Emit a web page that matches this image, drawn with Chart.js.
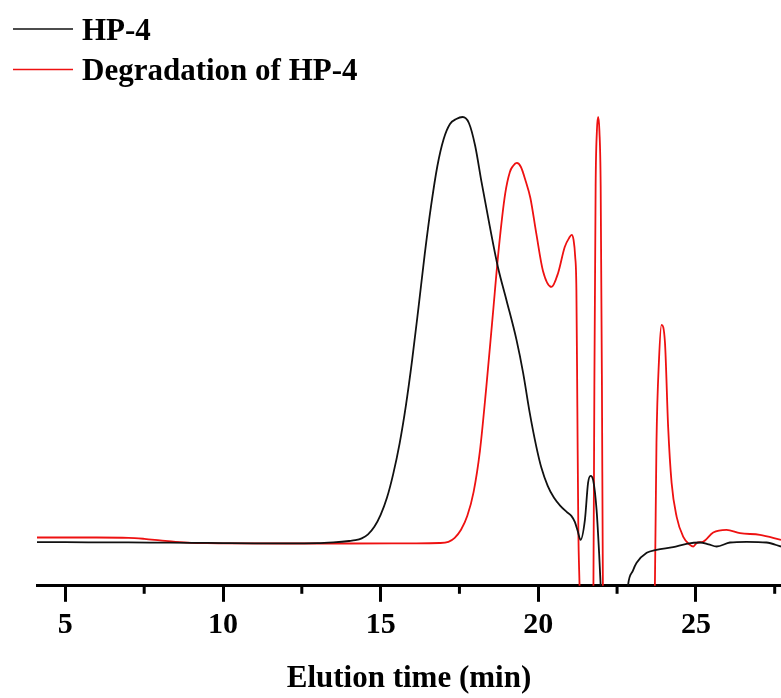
<!DOCTYPE html>
<html>
<head>
<meta charset="utf-8">
<script src="https://cdn.jsdelivr.net/npm/chart.js@4"></script>
<style>
  html, body { margin: 0; padding: 0; background: #fff; }
  #wrap { width: 781px; height: 698px; }
</style>
</head>
<body>
<div id="wrap"><canvas id="gpc" width="781" height="698"></canvas></div>
<script>
// elution time (min) and detector signal (arbitrary units, 0 = axis line)
const hp4Time = [4.1, 5, 6, 7, 8, 9, 10, 11, 12, 13, 13.5, 14.0, 14.2, 14.4, 14.6, 14.8, 15.0, 15.2, 15.4, 15.6,
  15.8, 16.0, 16.2, 16.4, 16.6, 16.8, 17.0, 17.2, 17.4, 17.6, 17.8, 18.0, 18.2, 18.46, 18.72, 18.99, 19.31, 19.52,
  19.73, 19.94, 20.1, 20.3, 20.5, 20.7, 20.9, 21.05, 21.16, 21.25, 21.34, 21.48, 21.58, 21.66, 21.74, 21.85, 21.93,
  21.98, 22.05, 22.75, 22.85, 23.0, 23.12, 23.44, 23.75, 24.28, 24.7, 25.13, 25.4, 25.66, 26.08, 26.61, 27.24, 27.7];
const hp4Signal = [43.7, 43.6, 43.5, 43.4, 43.2, 43, 42.7, 42.5, 42.5, 42.7, 43.5, 44.8, 45.6, 47.5, 51.5, 59, 71, 88, 112, 142,
  180, 226, 278, 332, 380, 420, 447, 462, 467, 469, 463, 440, 404, 360, 319, 286, 246, 213,
  173, 139, 118, 100, 88, 80, 74, 70, 64, 55, 46, 66, 103, 110, 106, 76, 33,
  0, -40, -40, 1, 15, 23, 33, 36, 38.7, 42, 43.3, 41.5, 39.3, 43.3, 44, 43.3, 39.3];

const degTime = [4.1, 5, 6, 7, 7.5, 8, 8.5, 9, 9.5, 10, 12, 14, 16, 16.87, 17.15, 17.35, 17.55, 17.75, 17.95, 18.15,
  18.35, 18.55, 18.75, 18.95, 19.1, 19.2, 19.32, 19.45, 19.6, 19.75, 19.94, 20.15, 20.42, 20.63, 20.84, 20.98, 21.06,
  21.12, 21.17, 21.21, 21.24, 21.27, 21.31, 21.35, 21.7, 21.75, 21.78, 21.82, 21.86, 21.9, 21.94, 21.98, 22.02, 22.05,
  22.1, 23.65, 23.7, 23.75, 23.83, 23.91, 24.02, 24.12, 24.23, 24.39, 24.6, 24.81, 24.92, 25.02, 25.24, 25.55, 25.97,
  26.4, 27.03, 27.7];
const degSignal = [48.3, 48.3, 48.3, 48, 47, 45.5, 44, 43, 42.6, 42.5, 42.3, 42.3, 42.5, 42.8, 44, 48, 56, 70, 94, 135,
  198, 268, 338, 392, 414, 420, 423, 419, 405, 388, 352, 315, 299, 313, 339, 348, 351,
  346, 330, 296, 179, 60, 0, -60, -60, 0, 200, 400, 455, 469, 455, 400, 200, 0,
  -60, -60, 0, 143, 226, 261, 243, 159, 103, 69, 49, 41, 39.3, 42.7, 44.3, 53.3, 56,
  52.7, 51, 46];

const legendLabels = ["HP-4", "Degradation of HP-4"];
const majorTicks = [5, 10, 15, 20, 25];
const minorTicks = [7.5, 12.5, 17.5, 22.5, 27.5];

const serif = '"Liberation Serif", "Times New Roman", serif';

function toPoints(xs, ys) {
  return xs.map(function (x, i) { return { x: x, y: ys[i] }; });
}

// short unlabeled ticks between the labeled ones
const minorTickPlugin = {
  id: "minorTicks",
  afterDraw(chart) {
    const ctx = chart.ctx;
    const xScale = chart.scales.x;
    const bottom = chart.chartArea.bottom;
    ctx.save();
    ctx.strokeStyle = "#000";
    ctx.lineWidth = 3;
    minorTicks.forEach(function (v) {
      const px = xScale.getPixelForValue(v);
      ctx.beginPath();
      ctx.moveTo(px, bottom);
      ctx.lineTo(px, bottom + 8);
      ctx.stroke();
    });
    ctx.restore();
  },
};

// legend in the top-left corner, one entry per line
const cornerLegend = {
  id: "cornerLegend",
  afterDraw(chart) {
    const ctx = chart.ctx;
    ctx.save();
    ctx.font = "bold 31px " + serif;
    ctx.textBaseline = "alphabetic";
    ctx.fillStyle = "#000";
    chart.data.datasets.forEach(function (ds, i) {
      const y = 29 + i * 40.5;
      ctx.strokeStyle = ds.borderColor;
      ctx.lineWidth = 1.6;
      ctx.beginPath();
      ctx.moveTo(13, y);
      ctx.lineTo(73, y);
      ctx.stroke();
      ctx.fillText(legendLabels[i], 82, y + 10.5);
    });
    ctx.restore();
  },
};

const data = {
  datasets: [
    {
      label: legendLabels[0],
      data: toPoints(hp4Time, hp4Signal),
      borderColor: "#111",
      borderWidth: 1.8,
      pointRadius: 0,
      cubicInterpolationMode: "monotone",
      clip: 0,
    },
    {
      label: legendLabels[1],
      data: toPoints(degTime, degSignal),
      borderColor: "#ee1111",
      borderWidth: 1.8,
      pointRadius: 0,
      cubicInterpolationMode: "monotone",
      clip: 0,
    },
  ],
};

var ctx = document.getElementById("gpc");
var myChart = new Chart(ctx, {
  type: "line",
  data: data,
  plugins: [minorTickPlugin, cornerLegend],
  options: {
    responsive: false,
    animation: false,
    layout: { padding: { left: 37, right: 0, top: 86, bottom: 0 } },
    plugins: {
      legend: { display: false },
      tooltip: { enabled: false },
    },
    scales: {
      x: {
        type: "linear",
        min: 4.1,
        max: 27.7,
        border: { display: true, color: "#000", width: 3 },
        grid: {
          display: true,
          drawOnChartArea: false,
          drawTicks: true,
          tickLength: 16,
          tickWidth: 3,
          tickColor: "#000",
        },
        afterBuildTicks: function (scale) {
          scale.ticks = majorTicks.map(function (v) { return { value: v }; });
        },
        ticks: {
          padding: 5,
          color: "#000",
          maxRotation: 0,
          autoSkip: false,
          font: { family: serif, size: 30, weight: "bold", lineHeight: 1.2 },
        },
        title: {
          display: true,
          text: "Elution time (min)",
          color: "#000",
          font: { family: serif, size: 31, weight: "bold", lineHeight: 1.2 },
          padding: { top: 13, bottom: 0 },
        },
      },
      y: {
        display: false,
        min: 0,
        max: 500,
      },
    },
  },
});
</script>
</body>
</html>
